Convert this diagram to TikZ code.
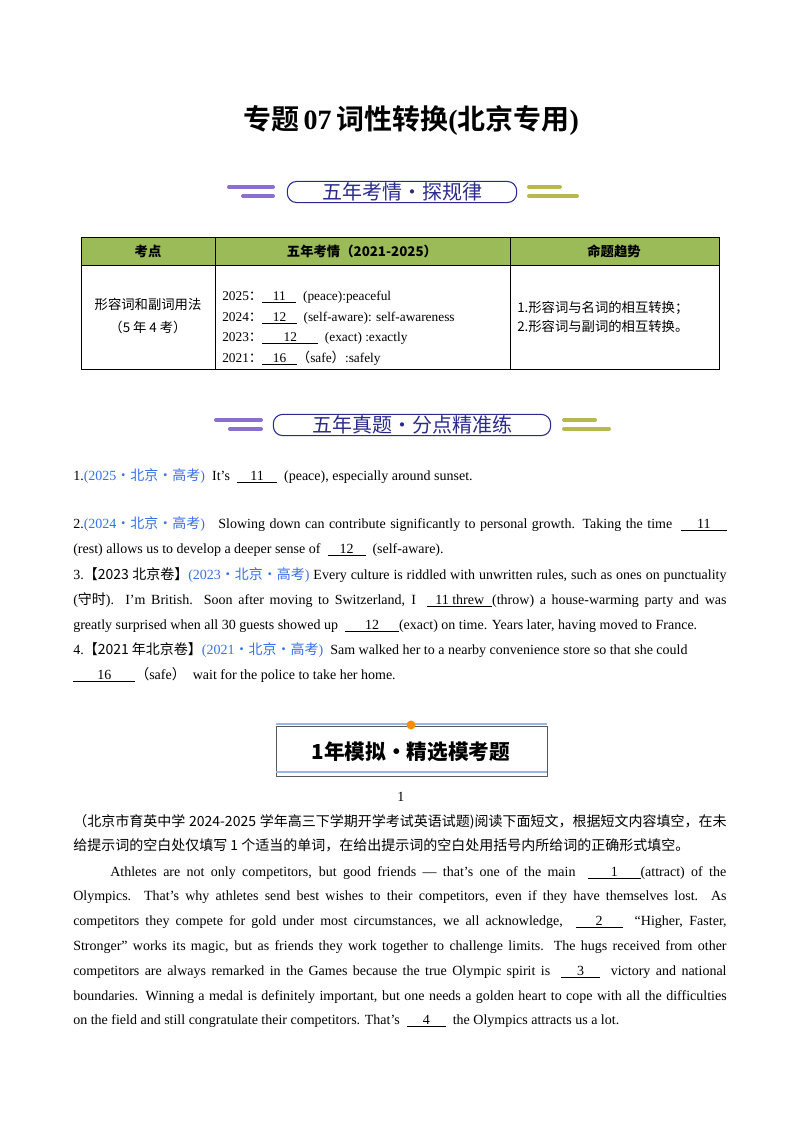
\documentclass[tikz,border=0pt]{standalone}
\usepackage{fontspec}
\setmainfont{Liberation Serif}
\newfontfamily\cjk{Noto Sans CJK SC}
\newfontfamily\cjkb{Noto Sans CJK SC Black}
\usetikzlibrary{positioning}
\definecolor{tagblue}{HTML}{3A6FE8}
\definecolor{headgreen}{HTML}{9BBB59}
\definecolor{bannerblue}{HTML}{2B2B8C}
\definecolor{lilac}{HTML}{8A6FD0}
\definecolor{olive}{HTML}{B8B850}
\newcommand{\blank}[2]{\underline{\hspace{#1}#2\hspace{#1}}}
\newcommand{\tagb}[1]{\textcolor{tagblue}{#1}}
\tikzset{
  line/.style={anchor=base west,inner sep=0pt,font=\fontsize{10.5}{12}\selectfont},
  banner/.style={draw=bannerblue,rounded corners=7pt,line width=0.8pt,text=bannerblue,
    font=\cjk\fontsize{15}{16}\selectfont,inner xsep=8pt,inner ysep=1pt},
  deco/.style={line width=3pt,line cap=round},
}
\begin{document}
\begin{tikzpicture}[x=0.75pt,y=-0.75pt]
\useasboundingbox (0,0) rectangle (800,1132);
% title
\node[font=\bfseries\fontsize{21}{24}\selectfont] (title) at (411,120) {{\cjkb 专题}\,07\,{\cjkb 词性转换}({\cjkb 北京专用})};
% banner 1
\node[banner,minimum width=172pt] (ban1) at (402,192) {五年考情·探规律};
\draw[deco,lilac] (229,187) -- (273,187); \draw[deco,lilac] (243,196) -- (273,196);
\draw[deco,olive] (529,187) -- (560,187); \draw[deco,olive] (529,196) -- (577,196);
% table
\fill[headgreen] (81,237) rectangle (719,265);
\draw[line width=0.6pt] (81,237) rectangle (719,369);
\draw (81,265) -- (719,265) (215,237) -- (215,369) (510,237) -- (510,369);
\node[font=\cjkb\fontsize{10}{12}\selectfont] (h1) at (148,251) {考点};
\node[font=\cjkb\fontsize{10}{12}\selectfont] (h2) at (362,251) {五年考情（2021-2025）};
\node[font=\cjkb\fontsize{10}{12}\selectfont] (h3) at (614,251) {命题趋势};
\node[align=center,font=\cjk\fontsize{10}{17}\selectfont] (c1) at (148,316) {形容词和副词用法\\（5 年 4 考）};
\node[line,font=\fontsize{10}{12}\selectfont] (y1) at (222,300) {2025{\cjk ：}\blank{8pt}{11}\ \ (peace):peaceful};
\node[line,font=\fontsize{10}{12}\selectfont] (y2) at (222,321) {2024{\cjk ：}\blank{8pt}{12}\ \ (self-aware): self-awareness};
\node[line,font=\fontsize{10}{12}\selectfont] (y3) at (222,341) {2023{\cjk ：}\blank{16pt}{12}\ \ (exact) :exactly};
\node[line,font=\fontsize{10}{12}\selectfont] (y4) at (222,362) {2021{\cjk ：}\blank{8pt}{16}{\cjk （}safe{\cjk ）}:safely};
\node[line,font=\cjk\fontsize{10}{12}\selectfont] (t1) at (517,312) {1.形容词与名词的相互转换；};
\node[line,font=\cjk\fontsize{10}{12}\selectfont] (t2) at (517,331) {2.形容词与副词的相互转换。};
% banner 2
\node[banner,minimum width=208pt] (ban2) at (412,425) {五年真题·分点精准练};
\draw[deco,lilac] (216,420) -- (261,420); \draw[deco,lilac] (230,429) -- (261,429);
\draw[deco,olive] (564,420) -- (595,420); \draw[deco,olive] (564,429) -- (609,429);
% questions
\node[line] (q1) at (73,480) {1.\tagb{(2025{\cjk ·北京·高考})}\ \ It's \ \blank{10pt}{11}\ \ (peace), especially around sunset.};
\node[line] (q2a) at (73,528) {\makebox[490pt][s]{2.\tagb{(2024{\cjk ·北京·高考})} \ \ Slowing down can contribute significantly to personal growth. Taking the time \ \blank{12pt}{11}}};
\node[line] (q2b) at (73,553) {(rest) allows us to develop a deeper sense of \ \blank{9pt}{12}\ \ (self-aware).};
\node[line] (q3a) at (73,579) {\makebox[490pt][s]{3.{\cjk 【2023 北京卷】}\tagb{(2023{\cjk ·北京·高考})} Every culture is riddled with unwritten rules, such as ones on punctuality}};
\node[line] (q3b) at (73,604) {\makebox[490pt][s]{({\cjk 守时}). I'm British. Soon after moving to Switzerland, I \ \blank{6pt}{11 threw}(throw) a house-warming party and was}};
\node[line] (q3c) at (73,629) {greatly surprised when all 30 guests showed up \ \blank{15pt}{12}(exact) on time. Years later, having moved to France.};
\node[line] (q4a) at (73,654) {4.{\cjk 【2021 年北京卷】}\tagb{(2021{\cjk ·北京·高考})}\ \ Sam walked her to a nearby convenience store so that she could};
\node[line] (q4b) at (73,679) {\blank{18pt}{16}{\cjk （}safe{\cjk ）}\ \ wait for the police to take her home.};
% model banner
\draw[gray!70!black,line width=0.6pt] (276,726) rectangle (547,776);
\draw[cyan!50!blue!40,line width=1pt] (276,724) -- (547,724) (276,772) -- (547,772);
\fill[orange!90!yellow] (411,725) circle (4.5);
\node[font=\cjkb\fontsize{15.5}{16}\selectfont] (ban3) at (411,752) {1年模拟·精选模考题};
% passage
\node[line] (num) at (397,801) {1};
\node[line,font=\cjk\fontsize{10.5}{12}\selectfont] (p1) at (73,826) {\makebox[490pt][s]{（北京市育英中学 2024-2025 学年高三下学期开学考试英语试题)阅读下面短文，根据短文内容填空，在未}};
\node[line,font=\cjk\fontsize{10.5}{12}\selectfont] (p2) at (73,850) {给提示词的空白处仅填写 1 个适当的单词，在给出提示词的空白处用括号内所给词的正确形式填空。};
\node[line] (p3) at (110,876) {\makebox[462pt][s]{Athletes are not only competitors, but good friends — that's one of the main \ \blank{17pt}{1}(attract) of the}};
\node[line] (p4) at (73,900) {\makebox[490pt][s]{Olympics. That's why athletes send best wishes to their competitors, even if they have themselves lost. As}};
\node[line] (p5) at (73,925) {\makebox[490pt][s]{competitors they compete for gold under most circumstances, we all acknowledge, \ \blank{15pt}{2}\ \ “Higher, Faster,}};
\node[line] (p6) at (73,950) {\makebox[490pt][s]{Stronger” works its magic, but as friends they work together to challenge limits. The hugs received from other}};
\node[line] (p7) at (73,975) {\makebox[490pt][s]{competitors are always remarked in the Games because the true Olympic spirit is \ \blank{12pt}{3}\ \ victory and national}};
\node[line] (p8) at (73,1000) {\makebox[490pt][s]{boundaries. Winning a medal is definitely important, but one needs a golden heart to cope with all the difficulties}};
\node[line] (p9) at (73,1024) {on the field and still congratulate their competitors. That's \ \blank{12pt}{4}\ \ the Olympics attracts us a lot.};
\end{tikzpicture}
\end{document}
